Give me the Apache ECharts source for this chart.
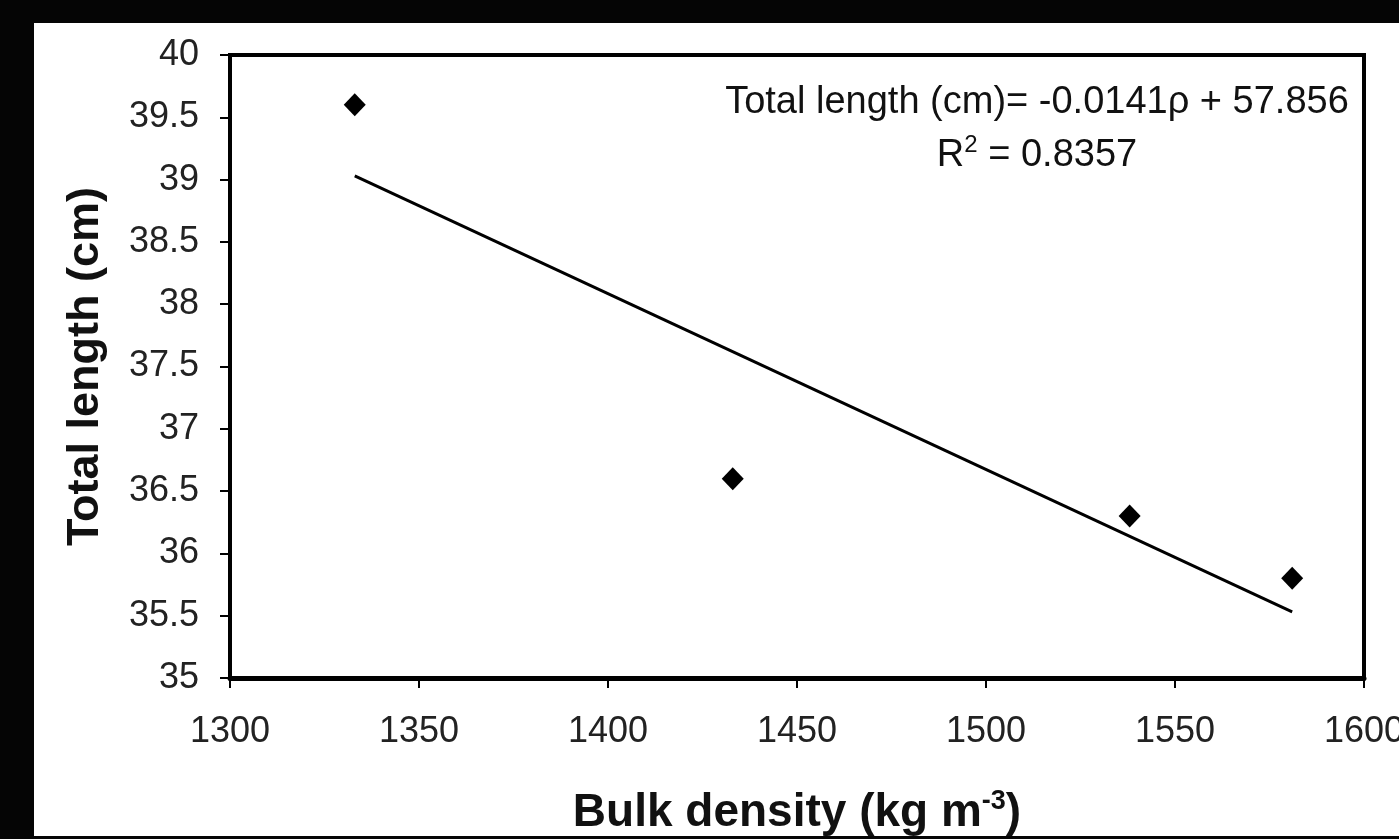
<!DOCTYPE html>
<html>
<head>
<meta charset="utf-8">
<script src="https://cdn.jsdelivr.net/npm/echarts@6/dist/echarts.min.js"></script>
<style>
	html, body {
		margin: 0;
		padding: 0;
		background: #050505;
		width: 1399px;
		height: 839px;
		overflow: hidden;
	}
	#chart {
		position: absolute;
		left: 34px;
		top: 23px;
		width: 1365px;
		height: 813px;
		background: #ffffff;
	}
</style>
</head>
<body>
<div id="chart"></div>
<script>
// bulk density (kg m-3) vs total length (cm)
var densityValues = [1333, 1433, 1538, 1581]
var lengthValues = [39.6, 36.6, 36.3, 35.8]

// fitted line read at its two ends
var trendDensity = [1333, 1581]
var trendLength = [39.03, 35.53]

var equationText = 'Total length (cm)= -0.0141\u03c1 + 57.856'
var r2Text = '0.8357'

var font = 'Liberation Sans, Arial, sans-serif'

var chart = echarts.init(document.getElementById('chart'))
var option = {
	backgroundColor: '#ffffff',
	animation: false,
	grid: {
		left: 196,
		top: 32,
		width: 1134,
		height: 623,
		outerBoundsMode: 'none',
		containLabel: false,
		show: true,
		borderColor: '#000',
		borderWidth: 4
	},
	xAxis: {
		type: 'value',
		min: 1300,
		max: 1600,
		interval: 50,
		name: 'Bulk density (kg m{sup|-3})',
		nameLocation: 'middle',
		nameGap: 110,
		nameTextStyle: {
			fontFamily: font,
			fontSize: 46,
			fontWeight: 'bold',
			color: '#111',
			rich: {
				sup: {
					fontFamily: font,
					fontSize: 27,
					fontWeight: 'bold',
					color: '#111',
					verticalAlign: 'top',
					padding: [0, 0, 24, 0]
				}
			}
		},
		axisLine: { lineStyle: { color: '#000', width: 5 } },
		axisTick: { inside: false, length: 10, lineStyle: { color: '#000', width: 2 } },
		axisLabel: {
			margin: 36,
			fontFamily: font,
			fontSize: 36,
			color: '#222',
			formatter: function (v) { return String(v) }
		},
		splitLine: { show: false }
	},
	yAxis: {
		type: 'value',
		min: 35,
		max: 40,
		interval: 0.5,
		name: 'Total length (cm)',
		nameLocation: 'middle',
		nameGap: 122,
		nameTextStyle: {
			fontFamily: font,
			fontSize: 45,
			fontWeight: 'bold',
			color: '#111'
		},
		axisLine: { lineStyle: { color: '#000', width: 4 } },
		axisTick: { inside: false, length: 10, lineStyle: { color: '#000', width: 2 } },
		axisLabel: {
			margin: 31,
			fontFamily: font,
			fontSize: 36,
			color: '#222'
		},
		splitLine: { show: false }
	},
	graphic: [
		{
			type: 'text',
			x: 1003,
			y: 61,
			style: {
				text: equationText,
				fontFamily: font,
				fontSize: 38,
				fill: '#111',
				align: 'center',
				verticalAlign: 'top'
			}
		},
		{
			type: 'text',
			x: 1003,
			y: 110,
			style: {
				text: '{r|R}{sup|2}{r| = ' + r2Text + '}',
				fontFamily: font,
				fontSize: 38,
				fill: '#111',
				align: 'center',
				verticalAlign: 'top',
				rich: {
					r: { fontFamily: font, fontSize: 38, fill: '#111' },
					sup: { fontFamily: font, fontSize: 24, fill: '#111', verticalAlign: 'top', padding: [0, 0, 22, 0] }
				}
			}
		}
	],
	series: [
		{
			name: 'trend',
			type: 'line',
			data: trendDensity.map(function (d, i) { return [d, trendLength[i]] }),
			showSymbol: false,
			symbol: 'none',
			lineStyle: { color: '#000', width: 3 },
			z: 2
		},
		{
			name: 'measured',
			type: 'scatter',
			data: densityValues.map(function (d, i) { return [d, lengthValues[i]] }),
			symbol: 'diamond',
			symbolSize: [22, 23],
			itemStyle: { color: '#000', opacity: 1 },
			z: 3
		}
	]
}
chart.setOption(option)
</script>
</body>
</html>
